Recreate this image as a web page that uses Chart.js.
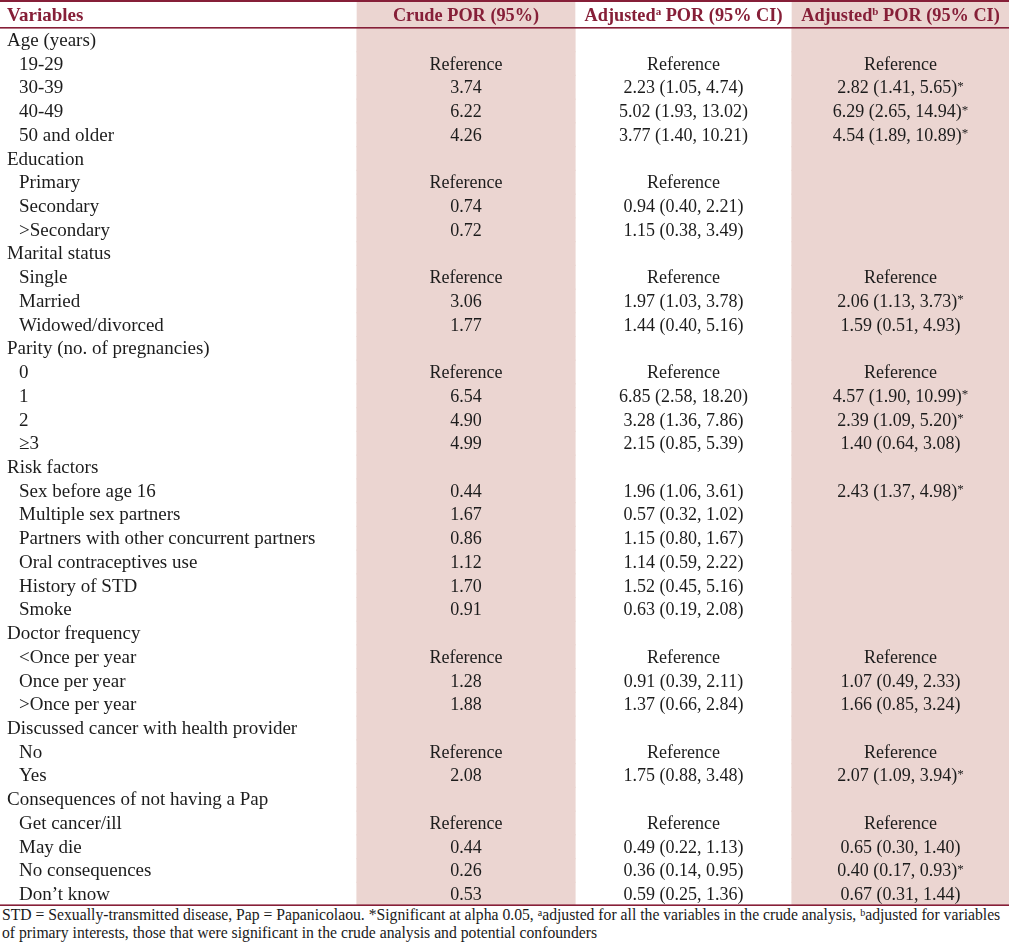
<!DOCTYPE html>
<html>
<head>
<meta charset="utf-8">
<script src="https://cdn.jsdelivr.net/npm/chart.js@4.4.1/dist/chart.umd.min.js"></script>
<style>
  html, body { margin: 0; padding: 0; background: #ffffff; }
  #wrap { position: relative; width: 1009px; height: 944px; overflow: hidden; }
  #table { position: absolute; left: 0; top: 0; }
  #foot { position: absolute; left: 2px; top: 906px; width: 1006px;
          font-family: "Liberation Serif", serif; font-size: 15.7px; line-height: 18px; color: #1a1a1a; white-space: nowrap; }
  #foot sup { font-size: 10px; vertical-align: 4px; line-height: 0; }
</style>
</head>
<body>
<div id="wrap">
  <canvas id="table" width="1009" height="906"></canvas>
  <div id="foot">STD = Sexually-transmitted disease, Pap = Papanicolaou. *Significant at alpha 0.05, <sup>a</sup>adjusted for all the variables in the crude analysis, <sup>b</sup>adjusted for variables<br>of primary interests, those that were significant in the crude analysis and potential confounders</div>
</div>
<script>
// ---------------- data ----------------
const REF = 'Reference';
const headers = ['Variables', 'Crude POR (95%)', 'Adjusted|a| POR (95% CI)', 'Adjusted|b| POR (95% CI)'];
const rowLabels = [
  'Age (years)', '19-29', '30-39', '40-49', '50 and older',
  'Education', 'Primary', 'Secondary', '>Secondary',
  'Marital status', 'Single', 'Married', 'Widowed/divorced',
  'Parity (no. of pregnancies)', '0', '1', '2', '\u22653',
  'Risk factors', 'Sex before age 16', 'Multiple sex partners', 'Partners with other concurrent partners',
  'Oral contraceptives use', 'History of STD', 'Smoke',
  'Doctor frequency', '<Once per year', 'Once per year', '>Once per year',
  'Discussed cancer with health provider', 'No', 'Yes',
  'Consequences of not having a Pap', 'Get cancer/ill', 'May die', 'No consequences', 'Don\u2019t know'
];
const rowLevel = [0,1,1,1,1, 0,1,1,1, 0,1,1,1, 0,1,1,1,1, 0,1,1,1,1,1,1, 0,1,1,1, 0,1,1, 0,1,1,1,1];
const crudePOR = [null, REF, 3.74, 6.22, 4.26, null, REF, 0.74, 0.72, null, REF, 3.06, 1.77,
  null, REF, 6.54, 4.90, 4.99, null, 0.44, 1.67, 0.86, 1.12, 1.70, 0.91,
  null, REF, 1.28, 1.88, null, REF, 2.08, null, REF, 0.44, 0.26, 0.53];
const adjAPOR = [null, REF, 2.23, 5.02, 3.77, null, REF, 0.94, 1.15, null, REF, 1.97, 1.44,
  null, REF, 6.85, 3.28, 2.15, null, 1.96, 0.57, 1.15, 1.14, 1.52, 0.63,
  null, REF, 0.91, 1.37, null, REF, 1.75, null, REF, 0.49, 0.36, 0.59];
const adjALow = [null, null, 1.05, 1.93, 1.40, null, null, 0.40, 0.38, null, null, 1.03, 0.40,
  null, null, 2.58, 1.36, 0.85, null, 1.06, 0.32, 0.80, 0.59, 0.45, 0.19,
  null, null, 0.39, 0.66, null, null, 0.88, null, null, 0.22, 0.14, 0.25];
const adjAHigh = [null, null, 4.74, 13.02, 10.21, null, null, 2.21, 3.49, null, null, 3.78, 5.16,
  null, null, 18.20, 7.86, 5.39, null, 3.61, 1.02, 1.67, 2.22, 5.16, 2.08,
  null, null, 2.11, 2.84, null, null, 3.48, null, null, 1.13, 0.95, 1.36];
const adjBPOR = [null, REF, 2.82, 6.29, 4.54, null, null, null, null, null, REF, 2.06, 1.59,
  null, REF, 4.57, 2.39, 1.40, null, 2.43, null, null, null, null, null,
  null, REF, 1.07, 1.66, null, REF, 2.07, null, REF, 0.65, 0.40, 0.67];
const adjBLow = [null, null, 1.41, 2.65, 1.89, null, null, null, null, null, null, 1.13, 0.51,
  null, null, 1.90, 1.09, 0.64, null, 1.37, null, null, null, null, null,
  null, null, 0.49, 0.85, null, null, 1.09, null, null, 0.30, 0.17, 0.31];
const adjBHigh = [null, null, 5.65, 14.94, 10.89, null, null, null, null, null, null, 3.73, 4.93,
  null, null, 10.99, 5.20, 3.08, null, 4.98, null, null, null, null, null,
  null, null, 2.33, 3.24, null, null, 3.94, null, null, 1.40, 0.93, 1.44];
const adjBSig = [0,0,1,1,1, 0,0,0,0, 0,0,1,0, 0,0,1,1,0, 0,1,0,0,0,0,0, 0,0,0,0, 0,0,1, 0,0,0,1,0];

// ---------------- layout constants ----------------
const COLS = [0, 357, 575, 792, 1009];          // column edges (x scale units)
const SHADED = [1, 3];                          // shaded column indexes
const HEADER_ROWS = 1.18;                       // header height in row units
const Y_MIN = -0.5 - HEADER_ROWS, Y_MAX = rowLabels.length - 0.5;
const FONT = '"Liberation Serif", "Times New Roman", serif';
const PINK = '#ebd5d1';
const MAROON = '#861f38';
const TEXT = '#1c1c1c';

const idx = rowLabels.map((_, i) => i);
const fmt = v => typeof v === 'number' ? v.toFixed(2) : v;
function cell(p, lo, hi, i) {
  if (p[i] == null) return null;
  if (lo[i] == null) return fmt(p[i]);
  return fmt(p[i]) + ' (' + fmt(lo[i]) + ', ' + fmt(hi[i]) + ')';
}

const datasets = [];
SHADED.forEach(c => {
  datasets.push({
    label: 'shade' + c,
    data: idx.map(i => ({ y: i, x: [COLS[c], COLS[c + 1]] })),
    backgroundColor: PINK, borderWidth: 0, grouped: false,
    barPercentage: 1, categoryPercentage: 1, inflateAmount: 0.6
  });
  datasets.push({
    label: 'shadeHead' + c,
    data: [{ y: Y_MIN + HEADER_ROWS / 2, x: [COLS[c], COLS[c + 1]] }],
    backgroundColor: PINK, borderWidth: 0, grouped: false,
    barThickness: HEADER_ROWS * 23.73 + 1
  });
});

function drawRich(ctx, text, x, y, align, font, supFont, supRise) {
  const parts = text.split('|').map((t, k) => ({ t, sup: k % 2 === 1 }));
  let w = 0;
  parts.forEach(p => { ctx.font = p.sup ? supFont : font; p.w = ctx.measureText(p.t).width; w += p.w; });
  let cx = align === 'center' ? x - w / 2 : x;
  ctx.textAlign = 'left';
  parts.forEach(p => {
    ctx.font = p.sup ? supFont : font;
    ctx.fillText(p.t, cx, p.sup ? y - supRise : y);
    cx += p.w;
  });
}

const tablePlugin = {
  id: 'tableText',
  afterDatasetsDraw(chart) {
    const { ctx, scales: { x, y } } = chart;
    ctx.save();
    ctx.fillStyle = MAROON;
    const yTop = y.getPixelForValue(Y_MIN), yHead = y.getPixelForValue(-0.5), yBot = y.getPixelForValue(Y_MAX);
    ctx.fillRect(x.left, yTop, x.width, 2);
    ctx.fillRect(x.left, yHead - 1, x.width, 1.6);
    ctx.fillRect(x.left, yBot - 1.6, x.width, 1.6);
    ctx.textBaseline = 'alphabetic';
    ctx.fillStyle = MAROON;
    const hy = y.getPixelForValue(Y_MIN + HEADER_ROWS / 2) + 6.5;
    const hSup = 'bold 11px ' + FONT;
    drawRich(ctx, headers[0], x.getPixelForValue(7), hy, 'left', 'bold 19px ' + FONT, hSup, 6);
    for (let c = 1; c < 4; c++) {
      drawRich(ctx, headers[c], x.getPixelForValue((COLS[c] + COLS[c + 1]) / 2), hy, 'center', 'bold 18.3px ' + FONT, hSup, 6);
    }
    ctx.fillStyle = TEXT;
    const lFont = '19px ' + FONT, vFont = '18px ' + FONT, sFont = '13px ' + FONT;
    idx.forEach(i => {
      const py = y.getPixelForValue(i) + 6;
      drawRich(ctx, rowLabels[i], x.getPixelForValue(rowLevel[i] ? 19 : 7), py, 'left', lFont, sFont, 4);
      const vals = [
        crudePOR[i] == null ? null : fmt(crudePOR[i]),
        cell(adjAPOR, adjALow, adjAHigh, i),
        cell(adjBPOR, adjBLow, adjBHigh, i)
      ];
      if (vals[2] && adjBSig[i]) vals[2] += '|*|';
      vals.forEach((v, k) => {
        if (!v) return;
        const c = k + 1;
        drawRich(ctx, v, x.getPixelForValue((COLS[c] + COLS[c + 1]) / 2), py, 'center', vFont, sFont, 3.5);
      });
    });
    ctx.restore();
  }
};

new Chart(document.getElementById('table'), {
  type: 'bar',
  data: { datasets },
  options: {
    indexAxis: 'y',
    responsive: false,
    animation: false,
    events: [],
    layout: { padding: 0 },
    plugins: { legend: { display: false }, tooltip: { enabled: false } },
    scales: {
      x: { type: 'linear', min: COLS[0], max: COLS[4], display: false, offset: false },
      y: { type: 'linear', min: Y_MIN, max: Y_MAX, reverse: true, display: false, offset: false }
    }
  },
  plugins: [tablePlugin]
});
</script>
</body>
</html>
